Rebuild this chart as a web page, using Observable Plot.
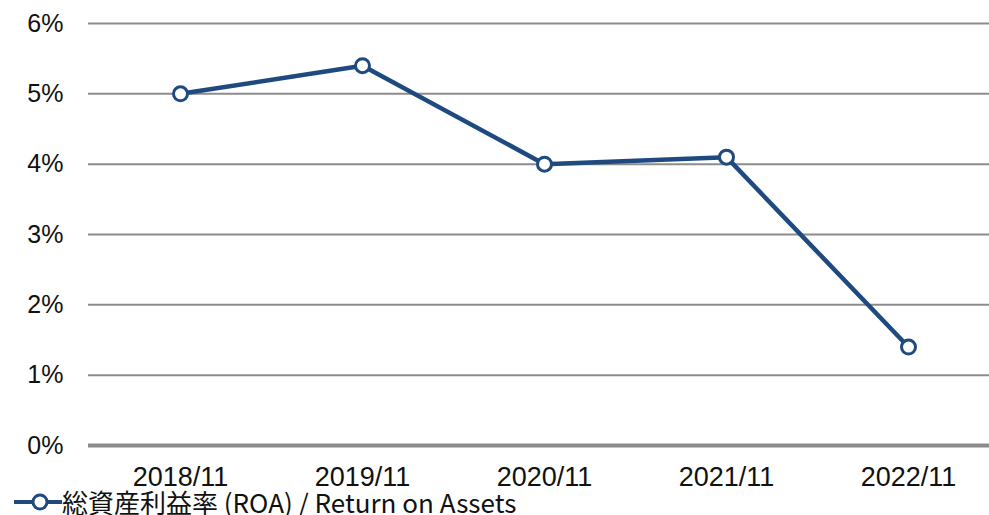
<!DOCTYPE html>
<html><head><meta charset="utf-8">
<script src="https://cdn.jsdelivr.net/npm/d3@7"></script>
<script src="https://cdn.jsdelivr.net/npm/@observablehq/plot@0.6"></script>
<style>
html,body{margin:0;padding:0;background:#fff;width:989px;height:515px}
#wrap{position:relative;width:989px;height:515px;overflow:hidden}
#legend{position:absolutely;}
#legend{position:absolute;left:14px;top:489px;display:flex;align-items:center;font-family:"Noto Sans CJK JP","Liberation Sans",sans-serif;font-size:26px;color:#111;line-height:26px;white-space:nowrap}
</style></head><body>
<div id="wrap"><div id="chart"></div>
<div id="legend"><svg width="48" height="20"><line x1="0" y1="10" x2="48" y2="10" stroke="#1f4a80" stroke-width="4"/><circle cx="26" cy="10" r="7" fill="#fff" stroke="#1f4a80" stroke-width="3"/></svg><span>総資産利益率 (ROA) / Return on Assets</span></div>
</div>
<script>
const periods = ["2018/11","2019/11","2020/11","2021/11","2022/11"];
const roa = [5.0, 5.4, 4.0, 4.1, 1.4];
const yTicks = [0,1,2,3,4,5,6];
const seriesName = "総資産利益率 (ROA) / Return on Assets";

const data = periods.map((p,i)=>({period:p, value:roa[i]}));
const color = "#1f4a80";

const chart = Plot.plot({
  width: 989,
  height: 490,
  marginLeft: 88,
  marginRight: 0,
  marginTop: 23,
  marginBottom: 45,
  style: {fontFamily: "'Liberation Sans', Arial, sans-serif", fontSize: "25px", color: "#111", background: "#fff", overflow: "visible"},
  x: {type: "band", domain: periods, range: [88, 1000], padding: 0, label: null},
  y: {domain: [0, 6], label: null},
  marks: [
    Plot.ruleY(yTicks.filter(d=>d>0), {stroke: "#8c8c8c", strokeWidth: 2}),
    Plot.ruleY([0], {stroke: "#8c8c8c", strokeWidth: 4}),
    Plot.axisY({ticks: yTicks, tickSize: 0, tickPadding: 25, tickFormat: d => d + "%", fontSize: 25, label: null}),
    Plot.axisX({tickSize: 0, tickPadding: 21, fontSize: 27, label: null}),
    Plot.line(data, {x: "period", y: "value", stroke: color, strokeWidth: 4.5}),
    Plot.dot(data, {x: "period", y: "value", r: 7, fill: "#fff", stroke: color, strokeWidth: 3})
  ]
});
document.getElementById("chart").appendChild(chart);
</script>
</body></html>
